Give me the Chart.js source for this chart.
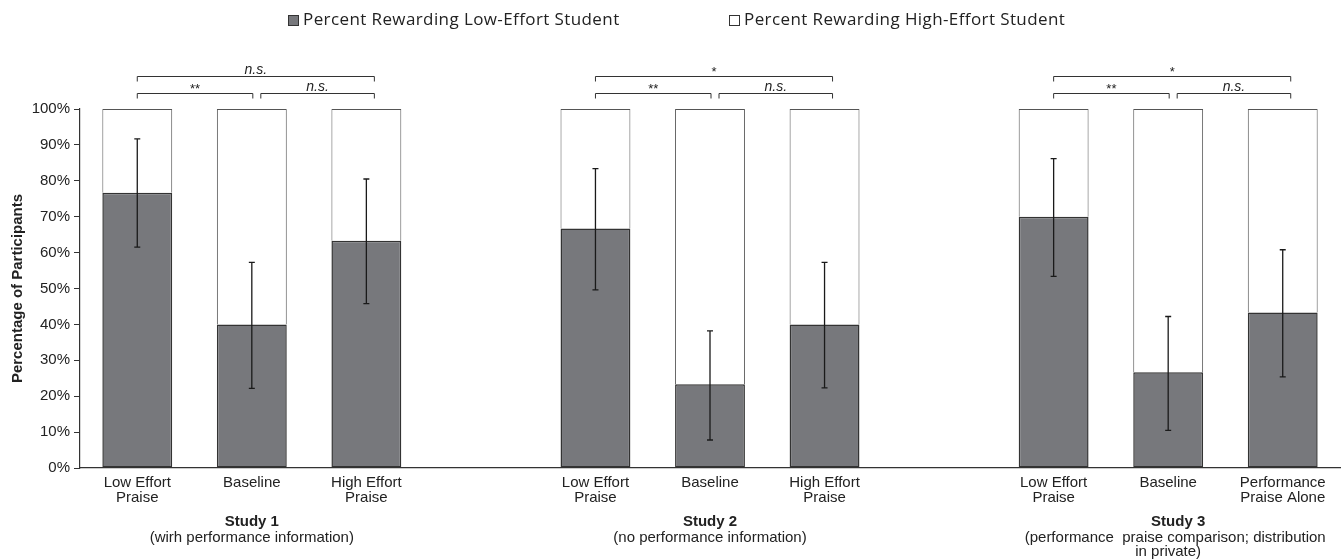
<!DOCTYPE html>
<html>
<head>
<meta charset="utf-8">
<script src="https://cdn.jsdelivr.net/npm/chart.js@4.4.0/dist/chart.umd.min.js"></script>
<style>
  html, body { margin: 0; padding: 0; background: #fff; }
  #wrap { width: 1341px; height: 559px; position: relative; }
</style>
</head>
<body>
<div id="wrap"><canvas id="myChart"></canvas></div>
<script>
// categories (empty slots separate the three studies)
const conditions = [
    ['Low Effort', 'Praise'], 'Baseline', ['High Effort', 'Praise'], '',
    ['Low Effort', 'Praise'], 'Baseline', ['High Effort', 'Praise'], '',
    ['Low Effort', 'Praise'], 'Baseline', ['Performance', 'Praise Alone']
];
const lowEffort  = [76.7, 40.0, 63.3, null, 66.7, 23.3, 40.0, null, 70.0, 26.7, 43.3];
const highEffort = [23.3, 60.0, 36.7, null, 33.3, 76.7, 60.0, null, 30.0, 73.3, 56.7];
const errUpper   = [91.7, 57.3, 80.5, null, 83.4, 38.2, 57.3, null, 86.2, 42.2, 60.8];
const errLower   = [61.5, 22.2, 45.8, null, 49.6, 7.8, 22.3, null, 53.4, 10.5, 25.4];

const studyStart = [0, 4, 8];
const studyTitles = ['Study 1', 'Study 2', 'Study 3'];
const studySubtitles = [
    ['(wirh performance information)'],
    ['(no performance information)'],
    ['(performance  praise comparison; distribution', 'in private)']
];
// significance: [first vs baseline, baseline vs third, first vs third]
const sigLabels = [
    ['**', 'n.s.', 'n.s.'],
    ['**', 'n.s.', '*'],
    ['**', 'n.s.', '*']
];
const legendLabels = ['Percent Rewarding Low-Effort Student', 'Percent Rewarding High-Effort Student'];

const FONT = '"Liberation Sans", Arial, sans-serif';
const GREY = '#77787c';
const INK = '#222';

const errorBars = {
    id: 'errorBars',
    afterDatasetsDraw(chart) {
        const ctx = chart.ctx, x = chart.scales.x, y = chart.scales.y;
        ctx.save();
        ctx.strokeStyle = '#1a1a1a';
        ctx.lineWidth = 1.3;
        errUpper.forEach((hi, i) => {
            if (hi == null) return;
            const px = x.getPixelForValue(i);
            const yt = y.getPixelForValue(hi), yb = y.getPixelForValue(errLower[i]);
            ctx.beginPath();
            ctx.moveTo(px, yt); ctx.lineTo(px, yb);
            ctx.moveTo(px - 3, yt); ctx.lineTo(px + 3, yt);
            ctx.moveTo(px - 3, yb); ctx.lineTo(px + 3, yb);
            ctx.stroke();
        });
        ctx.restore();
    }
};

function drawSig(ctx, text, cx, yLine) {
    ctx.textAlign = 'center';
    ctx.textBaseline = 'alphabetic';
    if (text.indexOf('*') === 0) {
        ctx.font = '13px ' + FONT;
        ctx.fillText(text, cx, yLine - 1);
    } else {
        ctx.font = 'italic 14px ' + FONT;
        ctx.fillText(text, cx, yLine - 3);
    }
}

function bracket(ctx, x1, x2, yy) {
    ctx.beginPath();
    ctx.moveTo(x1, yy + 5); ctx.lineTo(x1, yy); ctx.lineTo(x2, yy); ctx.lineTo(x2, yy + 5);
    ctx.stroke();
}

const annotations = {
    id: 'annotations',
    afterDraw(chart) {
        const ctx = chart.ctx, x = chart.scales.x, y = chart.scales.y;
        const y100 = y.getPixelForValue(100);
        ctx.save();
        ctx.strokeStyle = '#333';
        ctx.fillStyle = INK;
        ctx.lineWidth = 1;
        studyStart.forEach((s, k) => {
            const x1 = x.getPixelForValue(s), x2 = x.getPixelForValue(s + 1), x3 = x.getPixelForValue(s + 2);
            const yLow = Math.round(y100 - 16) + 0.5, yTop = Math.round(y100 - 33) + 0.5;
            bracket(ctx, x1, x2 + 1, yLow);
            bracket(ctx, x2 + 9, x3 + 8, yLow);
            bracket(ctx, x1, x3 + 8, yTop);
            drawSig(ctx, sigLabels[k][0], (x1 + x2 + 1) / 2, yLow);
            drawSig(ctx, sigLabels[k][1], (x2 + x3 + 17) / 2, yLow);
            drawSig(ctx, sigLabels[k][2], (x1 + x3 + 8) / 2, yTop);

            // study titles under the axis (study 3's text box sits a little right)
            const cx = x2 + (k === 2 ? 7 : 0);
            ctx.textAlign = 'center';
            ctx.textBaseline = 'middle';
            ctx.font = 'bold 15px ' + FONT;
            ctx.fillText(studyTitles[k], cx + (k === 2 ? 3 : 0), 522);
            ctx.font = '15px ' + FONT;
            studySubtitles[k].forEach((line, j) => ctx.fillText(line, j > 0 ? cx - 7 : cx, 538 + j * 14));
        });

        // legend
        ctx.font = '17px "Open Sans", sans-serif';
        if ('letterSpacing' in ctx) ctx.letterSpacing = '0.4px';
        ctx.textAlign = 'left';
        ctx.textBaseline = 'middle';
        const legendX = [288, 729];
        const legendFill = [GREY, '#fff'];
        legendLabels.forEach((t, i) => {
            ctx.fillStyle = legendFill[i];
            ctx.fillRect(legendX[i] + 0.5, 15.5, 10, 10);
            ctx.strokeStyle = '#333';
            ctx.strokeRect(legendX[i] + 0.5, 15.5, 10, 10);
            ctx.fillStyle = INK;
            ctx.fillText(t, legendX[i] + 15, 20);
        });
        ctx.restore();
    }
};

new Chart(document.getElementById('myChart').getContext('2d'), {
    type: 'bar',
    data: {
        labels: conditions,
        datasets: [{
            label: legendLabels[0],
            data: lowEffort,
            backgroundColor: GREY,
            borderColor: '#333',
            borderWidth: 1.5,
            borderSkipped: false
        }, {
            label: legendLabels[1],
            data: highEffort,
            backgroundColor: '#fff',
            borderColor: '#555',
            borderWidth: 1
        }]
    },
    options: {
        responsive: true,
        maintainAspectRatio: false,
        animation: false,
        datasets: {
            bar: { categoryPercentage: 1, barPercentage: 0.61 }
        },
        layout: { padding: { top: 109, right: 1, left: 0, bottom: 0 } },
        plugins: {
            legend: { display: false },
            tooltip: { enabled: false }
        },
        scales: {
            x: {
                stacked: true,
                grid: { display: false, drawTicks: false },
                border: { display: true, color: '#333', width: 1.2 },
                ticks: {
                    color: INK,
                    font: { family: FONT, size: 15, lineHeight: 1 },
                    padding: 7,
                    maxRotation: 0,
                    autoSkip: false
                },
                afterFit(scale) { scale.height = 91; }
            },
            y: {
                stacked: true,
                min: 0,
                max: 100,
                ticks: {
                    stepSize: 10,
                    color: INK,
                    font: { family: FONT, size: 15 },
                    padding: 4,
                    callback: v => v + '%'
                },
                grid: { drawOnChartArea: false, tickLength: 6, color: '#333' },
                border: { display: true, color: '#333', width: 1.2 },
                title: {
                    display: true,
                    text: 'Percentage of Participants',
                    color: INK,
                    font: { family: FONT, size: 15, weight: 'bold' },
                    padding: { top: 9, bottom: 0 }
                },
                afterFit(scale) { scale.width = 80; }
            }
        }
    },
    plugins: [errorBars, annotations]
});
</script>
</body>
</html>
